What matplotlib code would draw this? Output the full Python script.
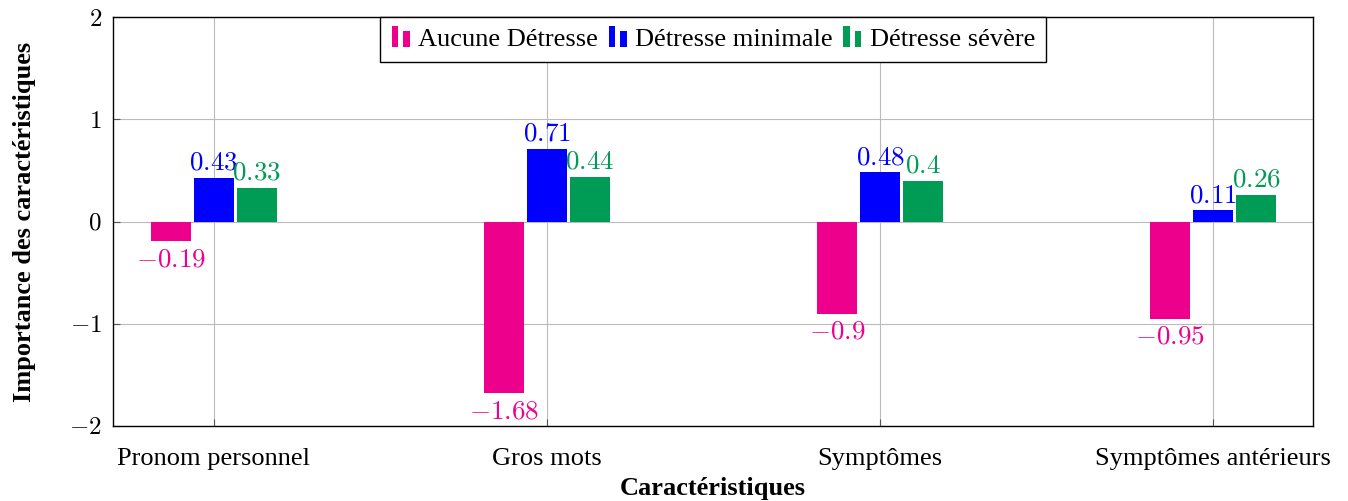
import numpy as np
import matplotlib.pyplot as plt
from matplotlib.patches import Rectangle
from matplotlib.legend_handler import HandlerBase

plt.rcParams['font.family'] = ['Liberation Serif', 'DejaVu Serif']
plt.rcParams['mathtext.fontset'] = 'cm'

# Feature importances per distress class
categories = ['Pronom personnel', 'Gros mots', 'Symptômes', 'Symptômes antérieurs']
aucune = [-0.19, -1.68, -0.9, -0.95]
minimale = [0.43, 0.71, 0.48, 0.11]
severe = [0.33, 0.44, 0.4, 0.26]
series_names = ['Aucune Détresse', 'Détresse minimale', 'Détresse sévère']
colors = ['#EC008C', '#0000FF', '#009B55']


# pgfplots-style legend marker: two thin bars side by side
class TwoBars(HandlerBase):
    def create_artists(self, legend, orig_handle, xdescent, ydescent,
                       width, height, fontsize, trans):
        c = orig_handle.get_facecolor()
        w = width * 0.3
        h = height * 1.15
        r1 = Rectangle((-xdescent + width * 0.05, -ydescent - 1), w, h, facecolor=c, transform=trans)
        r2 = Rectangle((-xdescent + width * 0.6, -ydescent - 1), w, h * 0.75, facecolor=c, transform=trans)
        return [r1, r2]


fig = plt.figure(figsize=(13.48, 5.01), dpi=100)
ax = fig.add_axes([113 / 1348, 75 / 501, 1200 / 1348, 409 / 501])

x = np.arange(len(categories))
offset = 0.129
bw = 0.118
handles = []
for i, (vals, name, col) in enumerate(zip([aucune, minimale, severe], series_names, colors)):
    pos = x + (i - 1) * offset
    bars = ax.bar(pos, vals, width=bw, color=col, zorder=3, label=name)
    handles.append(bars[0])
    for xp, v in zip(pos, vals):
        txt = f'${v:g}$'
        if v >= 0:
            ax.text(xp, v + 0.02, txt, color=col, ha='center', va='bottom', fontsize=19.5, zorder=4)
        else:
            ax.text(xp, v - 0.06, txt, color=col, ha='center', va='top', fontsize=19.5, zorder=4)

ax.set_xlim(-0.303, 3.3)
ax.set_ylim(-2, 2)
ax.set_xticks(x)
ax.set_xticklabels(categories, fontsize=19)
ax.set_yticks([-2, -1, 0, 1, 2])
ax.set_yticklabels([f'${t}$' for t in [-2, -1, 0, 1, 2]], fontsize=18)
ax.tick_params(direction='in', length=5, color='#555555', width=0.8)
ax.tick_params(axis='x', pad=16)
ax.tick_params(axis='y', pad=8)
ax.grid(True, color='#BBBBBB', linewidth=0.8, zorder=0)
for s in ax.spines.values():
    s.set_linewidth(1.0)

ax.set_xlabel('Caractéristiques', fontsize=19, fontweight='bold', labelpad=5)
ax.set_ylabel('Importance des caractéristiques', fontsize=19, fontweight='bold', labelpad=24)

leg = ax.legend(handles=handles, labels=series_names, loc='upper center', ncol=3,
                handler_map={h: TwoBars() for h in handles}, fontsize=19,
                frameon=True, fancybox=False, edgecolor='black', framealpha=1,
                handlelength=0.8, handletextpad=0.25, columnspacing=0.35,
                borderpad=0.4, borderaxespad=0, bbox_to_anchor=(0.5, 1.0))
leg.get_frame().set_linewidth(1.0)

fig.savefig('out.png', dpi=100)
